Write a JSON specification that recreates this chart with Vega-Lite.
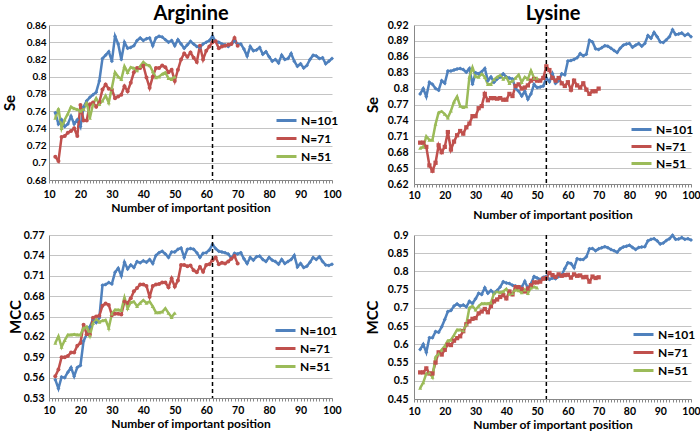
{
  "$schema": "https://vega.github.io/schema/vega-lite/v6.json",
  "padding": {"left": 2, "top": 3, "right": 2, "bottom": 0},
  "config": {
    "font": "Lato",
    "view": {"stroke": null},
    "axis": {"labelFont": "Lato", "labelFontWeight": "bold", "labelFontSize": 10.5, "labelColor": "#000", "titleFont": "Lato", "titleFontWeight": "bold", "titleColor": "#000", "domainColor": "#888888", "tickColor": "#888888", "gridColor": "#c4c4c4", "labelOverlap": false},
    "axisX": {"grid": false, "titleFontSize": 12, "tickSize": 3, "labelOverlap": false, "labelFlush": false},
    "axisY": {"grid": true, "titleFontSize": 15, "ticks": false, "labelOverlap": false},
    "legend": {"symbolType": "M-2,0H2", "symbolSize": 100, "symbolStrokeWidth": 3, "labelOffset": 8, "labelFontSize": 12, "labelFontWeight": "bold", "labelFont": "Lato", "labelColor": "#000", "rowPadding": 5, "padding": 0}
  },
  "datasets": {
    "A": [
      {"x":12,"n101":0.758,"n71":0.707,"n51":0.752},{"x":13,"n101":0.745,"n71":0.702,"n51":0.763},{"x":14,"n101":0.75,"n71":0.73,"n51":0.74},{"x":15,"n101":0.742,"n71":0.731,"n51":0.75},{"x":16,"n101":0.745,"n71":0.735,"n51":0.757},{"x":17,"n101":0.754,"n71":0.737,"n51":0.765},{"x":18,"n101":0.745,"n71":0.74,"n51":0.763},{"x":19,"n101":0.75,"n71":0.731,"n51":0.762},{"x":20,"n101":0.742,"n71":0.767,"n51":0.76},{"x":21,"n101":0.765,"n71":0.749,"n51":0.762},{"x":22,"n101":0.772,"n71":0.749,"n51":0.77},{"x":23,"n101":0.776,"n71":0.768,"n51":0.752},{"x":24,"n101":0.779,"n71":0.77,"n51":0.768},{"x":25,"n101":0.782,"n71":0.765,"n51":0.775},{"x":26,"n101":0.795,"n71":0.77,"n51":0.768},{"x":27,"n101":0.821,"n71":0.785,"n51":0.772},{"x":28,"n101":0.825,"n71":0.791,"n51":0.778},{"x":29,"n101":0.829,"n71":0.786,"n51":0.77},{"x":30,"n101":0.818,"n71":0.785,"n51":0.787},{"x":31,"n101":0.847,"n71":0.775,"n51":0.805},{"x":32,"n101":0.838,"n71":0.777,"n51":0.8},{"x":33,"n101":0.82,"n71":0.779,"n51":0.797},{"x":34,"n101":0.84,"n71":0.789,"n51":0.812},{"x":35,"n101":0.833,"n71":0.783,"n51":0.805},{"x":36,"n101":0.834,"n71":0.793,"n51":0.811},{"x":37,"n101":0.836,"n71":0.805,"n51":0.81},{"x":38,"n101":0.842,"n71":0.81,"n51":0.807},{"x":39,"n101":0.845,"n71":0.81,"n51":0.812},{"x":40,"n101":0.842,"n71":0.813,"n51":0.817},{"x":41,"n101":0.844,"n71":0.799,"n51":0.814},{"x":42,"n101":0.845,"n71":0.787,"n51":0.813},{"x":43,"n101":0.836,"n71":0.8,"n51":0.806},{"x":44,"n101":0.845,"n71":0.81,"n51":0.799},{"x":45,"n101":0.847,"n71":0.81,"n51":0.8},{"x":46,"n101":0.846,"n71":0.813,"n51":0.803},{"x":47,"n101":0.843,"n71":0.811,"n51":0.805},{"x":48,"n101":0.84,"n71":0.805,"n51":0.798},{"x":49,"n101":0.842,"n71":0.808,"n51":0.797},{"x":50,"n101":0.836,"n71":0.795,"n51":0.8},
      {"x":51,"n101":0.843,"n71":0.808},{"x":52,"n101":0.838,"n71":0.82},{"x":53,"n101":0.833,"n71":0.827},{"x":54,"n101":0.837,"n71":0.823},{"x":55,"n101":0.841,"n71":0.828},{"x":56,"n101":0.838,"n71":0.822},{"x":57,"n101":0.835,"n71":0.817},{"x":58,"n101":0.834,"n71":0.836},{"x":59,"n101":0.838,"n71":0.82},{"x":60,"n101":0.84,"n71":0.83},{"x":61,"n101":0.842,"n71":0.835},{"x":62,"n101":0.847,"n71":0.84},{"x":63,"n101":0.841,"n71":0.841},{"x":64,"n101":0.84,"n71":0.833},{"x":65,"n101":0.838,"n71":0.835},{"x":66,"n101":0.837,"n71":0.836},{"x":67,"n101":0.835,"n71":0.837},{"x":68,"n101":0.838,"n71":0.838},{"x":69,"n101":0.841,"n71":0.845},{"x":70,"n101":0.838,"n71":0.836},
      {"x":71,"n101":0.838},{"x":72,"n101":0.832},{"x":73,"n101":0.824},{"x":74,"n101":0.835},{"x":75,"n101":0.83},{"x":76,"n101":0.831},{"x":77,"n101":0.834},{"x":78,"n101":0.826},{"x":79,"n101":0.829},{"x":80,"n101":0.823},{"x":81,"n101":0.818},{"x":82,"n101":0.82},{"x":83,"n101":0.816},{"x":84,"n101":0.825},{"x":85,"n101":0.82},{"x":86,"n101":0.821},{"x":87,"n101":0.827},{"x":88,"n101":0.818},{"x":89,"n101":0.812},{"x":90,"n101":0.815},{"x":91,"n101":0.81},{"x":92,"n101":0.813},{"x":93,"n101":0.82},{"x":94,"n101":0.825},{"x":95,"n101":0.824},{"x":96,"n101":0.821},{"x":97,"n101":0.822},{"x":98,"n101":0.815},{"x":99,"n101":0.818},{"x":100,"n101":0.821}
    ],
    "B": [
      {"x":12,"n101":0.79,"n71":0.698,"n51":0.688},{"x":13,"n101":0.8,"n71":0.698,"n51":0.69},{"x":14,"n101":0.785,"n71":0.69,"n51":0.71},{"x":15,"n101":0.812,"n71":0.655,"n51":0.703},{"x":16,"n101":0.808,"n71":0.645,"n51":0.703},{"x":17,"n101":0.8,"n71":0.66,"n51":0.733},{"x":18,"n101":0.797,"n71":0.693,"n51":0.755},{"x":19,"n101":0.815,"n71":0.68,"n51":0.757},{"x":20,"n101":0.81,"n71":0.69,"n51":0.752},{"x":21,"n101":0.833,"n71":0.718,"n51":0.745},{"x":22,"n101":0.833,"n71":0.685,"n51":0.758},{"x":23,"n101":0.835,"n71":0.7,"n51":0.775},{"x":24,"n101":0.837,"n71":0.712,"n51":0.785},{"x":25,"n101":0.838,"n71":0.72,"n51":0.767},{"x":26,"n101":0.836,"n71":0.715,"n51":0.765},{"x":27,"n101":0.831,"n71":0.727,"n51":0.766},{"x":28,"n101":0.838,"n71":0.734,"n51":0.822},{"x":29,"n101":0.808,"n71":0.748,"n51":0.84},{"x":30,"n101":0.83,"n71":0.748,"n51":0.823},{"x":31,"n101":0.828,"n71":0.763,"n51":0.822},{"x":32,"n101":0.832,"n71":0.767,"n51":0.828},{"x":33,"n101":0.838,"n71":0.79,"n51":0.822},{"x":34,"n101":0.815,"n71":0.778,"n51":0.808},{"x":35,"n101":0.822,"n71":0.782,"n51":0.808},{"x":36,"n101":0.812,"n71":0.782,"n51":0.817},{"x":37,"n101":0.818,"n71":0.781,"n51":0.822},{"x":38,"n101":0.822,"n71":0.782,"n51":0.825},{"x":39,"n101":0.828,"n71":0.779,"n51":0.818},{"x":40,"n101":0.822,"n71":0.779,"n51":0.822},{"x":41,"n101":0.82,"n71":0.79,"n51":0.81},{"x":42,"n101":0.818,"n71":0.786,"n51":0.815},{"x":43,"n101":0.8,"n71":0.805,"n51":0.82},{"x":44,"n101":0.795,"n71":0.808,"n51":0.826},{"x":45,"n101":0.786,"n71":0.8,"n51":0.812},{"x":46,"n101":0.795,"n71":0.802,"n51":0.822},{"x":47,"n101":0.78,"n71":0.806,"n51":0.818},{"x":48,"n101":0.79,"n71":0.815,"n51":0.834},{"x":49,"n101":0.808,"n71":0.818,"n51":0.82},{"x":50,"n101":0.802,"n71":0.815,"n51":0.82},
      {"x":51,"n101":0.803,"n71":0.815},{"x":52,"n101":0.805,"n71":0.82},{"x":53,"n101":0.82,"n71":0.842},{"x":54,"n101":0.813,"n71":0.835},{"x":55,"n101":0.828,"n71":0.82},{"x":56,"n101":0.81,"n71":0.815},{"x":57,"n101":0.815,"n71":0.82},{"x":58,"n101":0.828,"n71":0.81},{"x":59,"n101":0.826,"n71":0.805},{"x":60,"n101":0.852,"n71":0.812},{"x":61,"n101":0.853,"n71":0.798},{"x":62,"n101":0.855,"n71":0.815},{"x":63,"n101":0.858,"n71":0.806},{"x":64,"n101":0.866,"n71":0.802},{"x":65,"n101":0.862,"n71":0.81},{"x":66,"n101":0.865,"n71":0.798},{"x":67,"n101":0.891,"n71":0.79},{"x":68,"n101":0.888,"n71":0.795},{"x":69,"n101":0.875,"n71":0.795},{"x":70,"n101":0.874,"n71":0.8},
      {"x":71,"n101":0.877},{"x":72,"n101":0.881},{"x":73,"n101":0.88},{"x":74,"n101":0.876},{"x":75,"n101":0.872},{"x":76,"n101":0.868},{"x":77,"n101":0.876},{"x":78,"n101":0.882},{"x":79,"n101":0.884},{"x":80,"n101":0.885},{"x":81,"n101":0.878},{"x":82,"n101":0.882},{"x":83,"n101":0.885},{"x":84,"n101":0.88},{"x":85,"n101":0.885},{"x":86,"n101":0.9},{"x":87,"n101":0.895},{"x":88,"n101":0.906},{"x":89,"n101":0.898},{"x":90,"n101":0.888},{"x":91,"n101":0.887},{"x":92,"n101":0.892},{"x":93,"n101":0.898},{"x":94,"n101":0.911},{"x":95,"n101":0.902},{"x":96,"n101":0.903},{"x":97,"n101":0.905},{"x":98,"n101":0.9},{"x":99,"n101":0.903},{"x":100,"n101":0.898}
    ],
    "C": [
      {"x":12,"n101":0.557,"n71":0.562,"n51":0.611},{"x":13,"n101":0.544,"n71":0.572,"n51":0.621},{"x":14,"n101":0.561,"n71":0.59,"n51":0.605},{"x":15,"n101":0.56,"n71":0.59,"n51":0.615},{"x":16,"n101":0.568,"n71":0.592,"n51":0.623},{"x":17,"n101":0.575,"n71":0.597,"n51":0.623},{"x":18,"n101":0.562,"n71":0.597,"n51":0.624},{"x":19,"n101":0.575,"n71":0.607,"n51":0.623},{"x":20,"n101":0.578,"n71":0.611,"n51":0.623},{"x":21,"n101":0.614,"n71":0.638,"n51":0.633},{"x":22,"n101":0.624,"n71":0.624,"n51":0.635},{"x":23,"n101":0.635,"n71":0.623,"n51":0.622},{"x":24,"n101":0.646,"n71":0.648,"n51":0.64},{"x":25,"n101":0.641,"n71":0.65,"n51":0.646},{"x":26,"n101":0.648,"n71":0.651,"n51":0.642},{"x":27,"n101":0.696,"n71":0.666,"n51":0.644},{"x":28,"n101":0.697,"n71":0.669,"n51":0.645},{"x":29,"n101":0.7,"n71":0.667,"n51":0.633},{"x":30,"n101":0.698,"n71":0.652,"n51":0.654},{"x":31,"n101":0.715,"n71":0.654,"n51":0.66},{"x":32,"n101":0.721,"n71":0.654,"n51":0.66},{"x":33,"n101":0.71,"n71":0.653,"n51":0.659},{"x":34,"n101":0.73,"n71":0.672,"n51":0.678},{"x":35,"n101":0.72,"n71":0.67,"n51":0.662},{"x":36,"n101":0.726,"n71":0.677,"n51":0.671},{"x":37,"n101":0.722,"n71":0.687,"n51":0.672},{"x":38,"n101":0.731,"n71":0.692,"n51":0.665},{"x":39,"n101":0.729,"n71":0.697,"n51":0.67},{"x":40,"n101":0.732,"n71":0.697,"n51":0.674},{"x":41,"n101":0.73,"n71":0.695,"n51":0.67},{"x":42,"n101":0.734,"n71":0.679,"n51":0.672},{"x":43,"n101":0.728,"n71":0.695,"n51":0.665},{"x":44,"n101":0.74,"n71":0.697,"n51":0.656},{"x":45,"n101":0.744,"n71":0.698,"n51":0.656},{"x":46,"n101":0.746,"n71":0.7,"n51":0.657},{"x":47,"n101":0.742,"n71":0.7,"n51":0.662},{"x":48,"n101":0.737,"n71":0.693,"n51":0.655},{"x":49,"n101":0.745,"n71":0.706,"n51":0.649},{"x":50,"n101":0.745,"n71":0.694,"n51":0.655},
      {"x":51,"n101":0.749,"n71":0.703},{"x":52,"n101":0.751,"n71":0.726},{"x":53,"n101":0.737,"n71":0.726},{"x":54,"n101":0.749,"n71":0.724},{"x":55,"n101":0.75,"n71":0.725},{"x":56,"n101":0.749,"n71":0.718},{"x":57,"n101":0.744,"n71":0.715},{"x":58,"n101":0.737,"n71":0.723},{"x":59,"n101":0.743,"n71":0.716},{"x":60,"n101":0.744,"n71":0.726},{"x":61,"n101":0.748,"n71":0.727},{"x":62,"n101":0.756,"n71":0.733},{"x":63,"n101":0.75,"n71":0.737},{"x":64,"n101":0.746,"n71":0.727},{"x":65,"n101":0.745,"n71":0.729},{"x":66,"n101":0.744,"n71":0.728},{"x":67,"n101":0.742,"n71":0.731},{"x":68,"n101":0.736,"n71":0.735},{"x":69,"n101":0.743,"n71":0.739},{"x":70,"n101":0.742,"n71":0.728},
      {"x":71,"n101":0.744},{"x":72,"n101":0.735},{"x":73,"n101":0.728},{"x":74,"n101":0.737},{"x":75,"n101":0.733},{"x":76,"n101":0.738},{"x":77,"n101":0.739},{"x":78,"n101":0.734},{"x":79,"n101":0.731},{"x":80,"n101":0.737},{"x":81,"n101":0.733},{"x":82,"n101":0.731},{"x":83,"n101":0.727},{"x":84,"n101":0.734},{"x":85,"n101":0.728},{"x":86,"n101":0.731},{"x":87,"n101":0.734},{"x":88,"n101":0.74},{"x":89,"n101":0.723},{"x":90,"n101":0.728},{"x":91,"n101":0.722},{"x":92,"n101":0.724},{"x":93,"n101":0.73},{"x":94,"n101":0.737},{"x":95,"n101":0.734},{"x":96,"n101":0.738},{"x":97,"n101":0.731},{"x":98,"n101":0.726},{"x":99,"n101":0.725},{"x":100,"n101":0.727}
    ],
    "D": [
      {"x":12,"n101":0.586,"n71":0.523,"n51":0.48},{"x":13,"n101":0.6,"n71":0.523,"n51":0.495},{"x":14,"n101":0.578,"n71":0.534,"n51":0.52},{"x":15,"n101":0.618,"n71":0.52,"n51":0.522},{"x":16,"n101":0.618,"n71":0.52,"n51":0.51},{"x":17,"n101":0.635,"n71":0.55,"n51":0.565},{"x":18,"n101":0.633,"n71":0.578,"n51":0.575},{"x":19,"n101":0.648,"n71":0.572,"n51":0.585},{"x":20,"n101":0.668,"n71":0.585,"n51":0.595},{"x":21,"n101":0.69,"n71":0.6,"n51":0.61},{"x":22,"n101":0.693,"n71":0.598,"n51":0.612},{"x":23,"n101":0.705,"n71":0.61,"n51":0.625},{"x":24,"n101":0.711,"n71":0.617,"n51":0.64},{"x":25,"n101":0.705,"n71":0.622,"n51":0.64},{"x":26,"n101":0.708,"n71":0.636,"n51":0.638},{"x":27,"n101":0.703,"n71":0.655,"n51":0.655},{"x":28,"n101":0.718,"n71":0.663,"n51":0.7},{"x":29,"n101":0.712,"n71":0.67,"n51":0.705},{"x":30,"n101":0.725,"n71":0.672,"n51":0.695},{"x":31,"n101":0.74,"n71":0.685,"n51":0.705},{"x":32,"n101":0.737,"n71":0.69,"n51":0.712},{"x":33,"n101":0.755,"n71":0.697,"n51":0.712},{"x":34,"n101":0.74,"n71":0.688,"n51":0.712},{"x":35,"n101":0.748,"n71":0.705,"n51":0.714},{"x":36,"n101":0.74,"n71":0.718,"n51":0.74},{"x":37,"n101":0.748,"n71":0.723,"n51":0.745},{"x":38,"n101":0.757,"n71":0.73,"n51":0.742},{"x":39,"n101":0.772,"n71":0.735,"n51":0.745},{"x":40,"n101":0.768,"n71":0.726,"n51":0.752},{"x":41,"n101":0.767,"n71":0.745,"n51":0.738},{"x":42,"n101":0.762,"n71":0.737,"n51":0.74},{"x":43,"n101":0.76,"n71":0.757,"n51":0.75},{"x":44,"n101":0.758,"n71":0.757,"n51":0.748},{"x":45,"n101":0.757,"n71":0.752,"n51":0.742},{"x":46,"n101":0.773,"n71":0.745,"n51":0.75},{"x":47,"n101":0.754,"n71":0.753,"n51":0.74},{"x":48,"n101":0.766,"n71":0.762,"n51":0.755},{"x":49,"n101":0.786,"n71":0.77,"n51":0.758},{"x":50,"n101":0.782,"n71":0.77,"n51":0.755},
      {"x":51,"n101":0.778,"n71":0.772},{"x":52,"n101":0.784,"n71":0.78},{"x":53,"n101":0.787,"n71":0.782},{"x":54,"n101":0.778,"n71":0.796},{"x":55,"n101":0.782,"n71":0.79},{"x":56,"n101":0.78,"n71":0.785},{"x":57,"n101":0.786,"n71":0.792},{"x":58,"n101":0.79,"n71":0.788},{"x":59,"n101":0.808,"n71":0.79},{"x":60,"n101":0.824,"n71":0.791},{"x":61,"n101":0.822,"n71":0.783},{"x":62,"n101":0.81,"n71":0.792},{"x":63,"n101":0.835,"n71":0.788},{"x":64,"n101":0.833,"n71":0.789},{"x":65,"n101":0.833,"n71":0.784},{"x":66,"n101":0.84,"n71":0.785},{"x":67,"n101":0.862,"n71":0.772},{"x":68,"n101":0.863,"n71":0.786},{"x":69,"n101":0.857,"n71":0.782},{"x":70,"n101":0.862,"n71":0.784},
      {"x":71,"n101":0.865},{"x":72,"n101":0.868},{"x":73,"n101":0.865},{"x":74,"n101":0.86},{"x":75,"n101":0.857},{"x":76,"n101":0.853},{"x":77,"n101":0.862},{"x":78,"n101":0.867},{"x":79,"n101":0.869},{"x":80,"n101":0.872},{"x":81,"n101":0.866},{"x":82,"n101":0.86},{"x":83,"n101":0.866},{"x":84,"n101":0.867},{"x":85,"n101":0.868},{"x":86,"n101":0.884},{"x":87,"n101":0.888},{"x":88,"n101":0.89},{"x":89,"n101":0.884},{"x":90,"n101":0.875},{"x":91,"n101":0.878},{"x":92,"n101":0.885},{"x":93,"n101":0.89},{"x":94,"n101":0.899},{"x":95,"n101":0.888},{"x":96,"n101":0.889},{"x":97,"n101":0.893},{"x":98,"n101":0.888},{"x":99,"n101":0.89},{"x":100,"n101":0.886}
    ]
  },
  "resolve": {"scale": {"color": "independent"}, "legend": {"color": "independent"}},
  "spacing": 23,
  "hconcat": [
    {
      "spacing": 16,
      "resolve": {"scale": {"color": "independent"}, "legend": {"color": "independent"}},
      "vconcat": [
        {
          "width": 283, "height": 155,
          "resolve": {"axis": {"x": "independent"}},
          "layer": [
            {
              "data": {"name": "A"},
              "transform": [{"fold": ["n101", "n71", "n51"], "as": ["s", "v"]}, {"filter": "isValid(datum.v)"}],
              "encoding": {
                "x": {"field": "x", "type": "quantitative", "scale": {"domain": [10, 100], "nice": false, "zero": false}, "axis": {"title": "Number of important position", "labelPadding": 6, "titlePadding": 3, "labelOverlap": false, "values": [10,11,12,13,14,15,16,17,18,19,20,21,22,23,24,25,26,27,28,29,30,31,32,33,34,35,36,37,38,39,40,41,42,43,44,45,46,47,48,49,50,51,52,53,54,55,56,57,58,59,60,61,62,63,64,65,66,67,68,69,70,71,72,73,74,75,76,77,78,79,80,81,82,83,84,85,86,87,88,89,90,91,92,93,94,95,96,97,98,99,100], "labelExpr": "datum.value % 10 == 0 ? datum.label : ''"}},
                "y": {"field": "v", "type": "quantitative", "scale": {"domain": [0.68, 0.86], "nice": false, "zero": false}, "axis": {"title": "Se", "labelPadding": 3, "titlePadding": 9, "labelFontSize": 10, "labelOverlap": false, "values": [0.68,0.7,0.72,0.74,0.76,0.78,0.8,0.82,0.84,0.86], "format": ".2~f"}},
                "color": {"field": "s", "type": "nominal", "scale": {"domain": ["n101", "n71", "n51"], "range": ["#4f81bd", "#c0504d", "#9bbb59"]}, "legend": null}
              },
              "layer": [
                {"mark": {"type": "line", "strokeWidth": 2.5},
                 "encoding": {"color": {"field": "s", "type": "nominal", "legend": {"title": null, "orient": "none", "legendX": 231, "legendY": 89, "labelExpr": "'N=' + slice(datum.label, 1)"}}}},
                {"transform": [{"filter": "datum.s == 'n101'"}], "mark": {"type": "point", "filled": true, "size": 16, "opacity": 1, "shape": "diamond"}},
                {"transform": [{"filter": "datum.s == 'n71'"}], "mark": {"type": "point", "filled": true, "size": 16, "opacity": 1, "shape": "circle"}},
                {"transform": [{"filter": "datum.s == 'n51'"}], "mark": {"type": "point", "filled": true, "size": 16, "opacity": 1, "shape": "triangle-up"}}
              ]
            },
            {"data": {"values": [{"x": 62}]}, "mark": {"type": "rule", "color": "#000", "strokeWidth": 1.5, "strokeDash": [4, 3]},
             "encoding": {"x": {"field": "x", "type": "quantitative", "axis": {"orient": "top", "title": "Arginine", "titleFontSize": 20, "titlePadding": 2, "labels": false, "ticks": false, "domain": false, "grid": false}}}}
          ]
        },
        {
          "width": 283, "height": 163,
          "encoding": {"x": {"field": "x", "type": "quantitative", "scale": {"domain": [10, 100], "nice": false, "zero": false}, "axis": {"title": "Number of important position", "labelPadding": 4, "titlePadding": 3, "labelOverlap": false, "values": [10,11,12,13,14,15,16,17,18,19,20,21,22,23,24,25,26,27,28,29,30,31,32,33,34,35,36,37,38,39,40,41,42,43,44,45,46,47,48,49,50,51,52,53,54,55,56,57,58,59,60,61,62,63,64,65,66,67,68,69,70,71,72,73,74,75,76,77,78,79,80,81,82,83,84,85,86,87,88,89,90,91,92,93,94,95,96,97,98,99,100], "labelExpr": "datum.value % 10 == 0 ? datum.label : ''"}}},
          "layer": [
            {
              "data": {"name": "C"},
              "transform": [{"fold": ["n101", "n71", "n51"], "as": ["s", "v"]}, {"filter": "isValid(datum.v)"}],
              "encoding": {
                "y": {"field": "v", "type": "quantitative", "scale": {"domain": [0.53, 0.77], "nice": false, "zero": false}, "axis": {"title": "MCC", "labelPadding": 5, "titlePadding": 0, "labelOverlap": false, "values": [0.53,0.56,0.59,0.62,0.65,0.68,0.71,0.74,0.77], "format": ".2~f"}},
                "color": {"field": "s", "type": "nominal", "scale": {"domain": ["n101", "n71", "n51"], "range": ["#4f81bd", "#c0504d", "#9bbb59"]}, "legend": null}
              },
              "layer": [
                {"mark": {"type": "line", "strokeWidth": 2.5},
                 "encoding": {"color": {"field": "s", "type": "nominal", "legend": {"title": null, "orient": "none", "legendX": 230, "legendY": 89, "labelExpr": "'N=' + slice(datum.label, 1)"}}}},
                {"transform": [{"filter": "datum.s == 'n101'"}], "mark": {"type": "point", "filled": true, "size": 16, "opacity": 1, "shape": "diamond"}},
                {"transform": [{"filter": "datum.s == 'n71'"}], "mark": {"type": "point", "filled": true, "size": 16, "opacity": 1, "shape": "circle"}},
                {"transform": [{"filter": "datum.s == 'n51'"}], "mark": {"type": "point", "filled": true, "size": 16, "opacity": 1, "shape": "triangle-up"}}
              ]
            },
            {"data": {"values": [{"x": 62}]}, "mark": {"type": "rule", "color": "#000", "strokeWidth": 1.5, "strokeDash": [4, 3]}}
          ]
        }
      ]
    },
    {
      "spacing": 9,
      "resolve": {"scale": {"color": "independent"}, "legend": {"color": "independent"}},
      "vconcat": [
        {
          "width": 277, "height": 159,
          "resolve": {"axis": {"x": "independent"}},
          "layer": [
            {
              "data": {"name": "B"},
              "transform": [{"fold": ["n101", "n71", "n51"], "as": ["s", "v"]}, {"filter": "isValid(datum.v)"}],
              "encoding": {
                "x": {"field": "x", "type": "quantitative", "scale": {"domain": [10, 100], "nice": false, "zero": false}, "axis": {"title": "Number of important position", "labelPadding": 3, "titlePadding": 9, "labelOverlap": false, "values": [10,11,12,13,14,15,16,17,18,19,20,21,22,23,24,25,26,27,28,29,30,31,32,33,34,35,36,37,38,39,40,41,42,43,44,45,46,47,48,49,50,51,52,53,54,55,56,57,58,59,60,61,62,63,64,65,66,67,68,69,70,71,72,73,74,75,76,77,78,79,80,81,82,83,84,85,86,87,88,89,90,91,92,93,94,95,96,97,98,99,100], "labelExpr": "datum.value % 10 == 0 ? datum.label : ''"}},
                "y": {"field": "v", "type": "quantitative", "scale": {"domain": [0.62, 0.92], "nice": false, "zero": false}, "axis": {"title": "Se", "labelPadding": 6, "titlePadding": 7, "labelOverlap": false, "values": [0.62,0.65,0.68,0.71,0.74,0.77,0.8,0.83,0.86,0.89,0.92], "format": ".2~f"}},
                "color": {"field": "s", "type": "nominal", "scale": {"domain": ["n101", "n71", "n51"], "range": ["#4f81bd", "#c0504d", "#9bbb59"]}, "legend": null}
              },
              "layer": [
                {"mark": {"type": "line", "strokeWidth": 2.5},
                 "encoding": {"color": {"field": "s", "type": "nominal", "legend": {"title": null, "orient": "none", "legendX": 221, "legendY": 98, "rowPadding": 4, "labelExpr": "'N=' + slice(datum.label, 1)"}}}},
                {"transform": [{"filter": "datum.s == 'n101'"}], "mark": {"type": "point", "filled": true, "size": 16, "opacity": 1, "shape": "diamond"}},
                {"transform": [{"filter": "datum.s == 'n71'"}], "mark": {"type": "point", "filled": true, "size": 18, "opacity": 1, "shape": "square"}},
                {"transform": [{"filter": "datum.s == 'n51'"}], "mark": {"type": "point", "filled": true, "size": 16, "opacity": 1, "shape": "triangle-up"}}
              ]
            },
            {"data": {"values": [{"x": 53}]}, "mark": {"type": "rule", "color": "#000", "strokeWidth": 1.5, "strokeDash": [4, 3]},
             "encoding": {"x": {"field": "x", "type": "quantitative", "axis": {"orient": "top", "title": "Lysine", "titleFontSize": 20, "titlePadding": 2, "labels": false, "ticks": false, "domain": false, "grid": false}}}}
          ]
        },
        {
          "width": 277, "height": 164,
          "encoding": {"x": {"field": "x", "type": "quantitative", "scale": {"domain": [10, 100], "nice": false, "zero": false}, "axis": {"title": "Number of important position", "labelPadding": 4, "titlePadding": 3, "labelOverlap": false, "values": [10,11,12,13,14,15,16,17,18,19,20,21,22,23,24,25,26,27,28,29,30,31,32,33,34,35,36,37,38,39,40,41,42,43,44,45,46,47,48,49,50,51,52,53,54,55,56,57,58,59,60,61,62,63,64,65,66,67,68,69,70,71,72,73,74,75,76,77,78,79,80,81,82,83,84,85,86,87,88,89,90,91,92,93,94,95,96,97,98,99,100], "labelExpr": "datum.value % 10 == 0 ? datum.label : ''"}}},
          "layer": [
            {
              "data": {"name": "D"},
              "transform": [{"fold": ["n101", "n71", "n51"], "as": ["s", "v"]}, {"filter": "isValid(datum.v)"}],
              "encoding": {
                "y": {"field": "v", "type": "quantitative", "scale": {"domain": [0.45, 0.9], "nice": false, "zero": false}, "axis": {"title": "MCC", "labelPadding": 6, "titlePadding": 7, "labelOverlap": false, "values": [0.45,0.5,0.55,0.6,0.65,0.7,0.75,0.8,0.85,0.9], "format": ".2~f"}},
                "color": {"field": "s", "type": "nominal", "scale": {"domain": ["n101", "n71", "n51"], "range": ["#4f81bd", "#c0504d", "#9bbb59"]}, "legend": null}
              },
              "layer": [
                {"mark": {"type": "line", "strokeWidth": 2.5},
                 "encoding": {"color": {"field": "s", "type": "nominal", "legend": {"title": null, "orient": "none", "legendX": 223, "legendY": 93, "labelExpr": "'N=' + slice(datum.label, 1)"}}}},
                {"transform": [{"filter": "datum.s == 'n101'"}], "mark": {"type": "point", "filled": true, "size": 16, "opacity": 1, "shape": "diamond"}},
                {"transform": [{"filter": "datum.s == 'n71'"}], "mark": {"type": "point", "filled": true, "size": 18, "opacity": 1, "shape": "square"}},
                {"transform": [{"filter": "datum.s == 'n51'"}], "mark": {"type": "point", "filled": true, "size": 16, "opacity": 1, "shape": "triangle-up"}}
              ]
            },
            {"data": {"values": [{"x": 53}]}, "mark": {"type": "rule", "color": "#000", "strokeWidth": 1.5, "strokeDash": [4, 3]}}
          ]
        }
      ]
    }
  ]
}
